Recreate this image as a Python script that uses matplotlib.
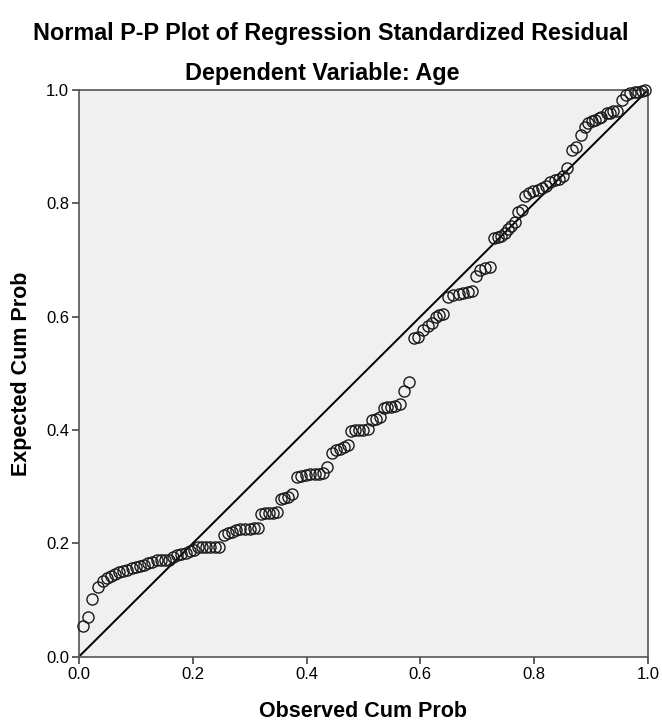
import matplotlib
matplotlib.use('Agg')
import matplotlib.pyplot as plt

plt.rcParams['font.family'] = ['Liberation Sans', 'DejaVu Sans']

# observed cumulative probability (x) and expected cumulative probability (y)
observed = [
    0.007, 0.016, 0.024, 0.033, 0.042, 0.049, 0.056, 0.063, 0.071, 0.078,
    0.085, 0.093, 0.100, 0.107, 0.114, 0.122, 0.129, 0.137, 0.144, 0.151,
    0.159, 0.166, 0.173, 0.180, 0.188, 0.195, 0.202, 0.210, 0.217, 0.224,
    0.231, 0.239, 0.247, 0.255, 0.262, 0.270, 0.277, 0.284, 0.292, 0.300,
    0.307, 0.314, 0.320, 0.327, 0.334, 0.341, 0.349, 0.355, 0.361, 0.367,
    0.374, 0.383, 0.391, 0.399, 0.407, 0.415, 0.422, 0.429, 0.436, 0.444,
    0.452, 0.459, 0.466, 0.473, 0.478, 0.485, 0.493, 0.500, 0.508, 0.515,
    0.522, 0.529, 0.536, 0.542, 0.549, 0.556, 0.564, 0.571, 0.580, 0.588,
    0.596, 0.605, 0.614, 0.621, 0.627, 0.633, 0.640, 0.649, 0.658, 0.667,
    0.675, 0.684, 0.690, 0.698, 0.705, 0.714, 0.722, 0.730, 0.736, 0.742,
    0.748, 0.754, 0.760, 0.766, 0.772, 0.779, 0.784, 0.791, 0.798, 0.806,
    0.813, 0.820, 0.828, 0.836, 0.843, 0.851, 0.857, 0.866, 0.873, 0.882,
    0.889, 0.895, 0.901, 0.907, 0.913, 0.918, 0.927, 0.933, 0.939, 0.945,
    0.954, 0.962, 0.969, 0.977, 0.983, 0.989, 0.995,
]
expected = [
    0.054, 0.071, 0.102, 0.123, 0.134, 0.139, 0.143, 0.146, 0.150, 0.152,
    0.154, 0.156, 0.159, 0.160, 0.162, 0.165, 0.168, 0.170, 0.170, 0.170,
    0.171, 0.176, 0.179, 0.182, 0.184, 0.187, 0.189, 0.193, 0.194, 0.194,
    0.194, 0.194, 0.194, 0.215, 0.218, 0.221, 0.223, 0.225, 0.225, 0.226,
    0.227, 0.228, 0.252, 0.253, 0.254, 0.254, 0.256, 0.278, 0.280, 0.282,
    0.287, 0.317, 0.319, 0.321, 0.322, 0.323, 0.323, 0.324, 0.335, 0.359,
    0.364, 0.366, 0.370, 0.374, 0.399, 0.400, 0.400, 0.400, 0.402, 0.418,
    0.419, 0.423, 0.439, 0.440, 0.441, 0.443, 0.446, 0.469, 0.484, 0.562,
    0.564, 0.577, 0.583, 0.589, 0.600, 0.603, 0.605, 0.635, 0.638, 0.640,
    0.641, 0.644, 0.646, 0.671, 0.683, 0.686, 0.688, 0.738, 0.741, 0.742,
    0.748, 0.755, 0.760, 0.767, 0.785, 0.788, 0.812, 0.818, 0.821, 0.824,
    0.827, 0.830, 0.837, 0.841, 0.843, 0.848, 0.862, 0.894, 0.899, 0.920,
    0.935, 0.941, 0.945, 0.947, 0.950, 0.953, 0.959, 0.960, 0.962, 0.963,
    0.982, 0.991, 0.994, 0.996, 0.997, 0.998, 1.000,
]
ticks = [0.0, 0.2, 0.4, 0.6, 0.8, 1.0]
tick_labels = ['0.0', '0.2', '0.4', '0.6', '0.8', '1.0']

fig = plt.figure(figsize=(6.62, 7.25), dpi=100)
ax = fig.add_axes([0.119, 0.094, 0.860, 0.782])
ax.set_facecolor('#f0f0f0')

ax.plot([0, 1], [0, 1], color='black', lw=1.4, zorder=2)
ax.plot(observed, expected, linestyle='none', marker='o', markersize=8.0,
        markerfacecolor='none', markeredgecolor='#1a1a1a', markeredgewidth=1.0,
        zorder=3, clip_on=False)

ax.set_xlim(0, 1)
ax.set_ylim(0, 1)
ax.set_xticks(ticks)
ax.set_xticklabels(tick_labels)
ax.set_yticks(ticks)
ax.set_yticklabels(tick_labels)
ax.tick_params(direction='out', length=5, width=1.2, color='#444444',
               labelsize=12, pad=2)
for side in ax.spines.values():
    side.set_color('#555555')
    side.set_linewidth(1.2)

ax.set_xlabel('Observed Cum Prob', fontsize=15.5, fontweight='bold', labelpad=14)
ax.set_ylabel('Expected Cum Prob', fontsize=15.5, fontweight='bold', labelpad=10)
fig.text(0.487, 0.899, 'Dependent Variable: Age',
         ha='center', va='center', fontsize=16.8, fontweight='bold')
fig.text(0.5, 0.954, 'Normal P-P Plot of Regression Standardized Residual',
         ha='center', va='center', fontsize=16.8, fontweight='bold')

fig.savefig('out.png', dpi=100)
